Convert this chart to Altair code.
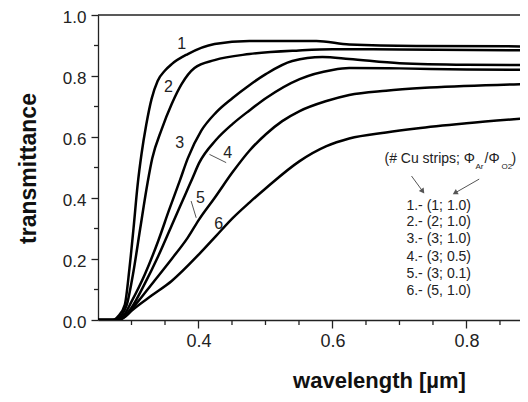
import altair as alt
import pandas as pd

FONT = "Liberation Sans, Arial, sans-serif"

# ---- curve data (wavelength in µm, transmittance) ----
c1_x = [0.25, 0.272, 0.28, 0.29, 0.297, 0.303, 0.309, 0.315, 0.322, 0.330, 0.339, 0.350, 0.360, 0.384, 0.424, 0.476, 0.576, 0.625, 0.725, 0.891]
c1_y = [0.0, 0.0, 0.012, 0.05, 0.17, 0.30, 0.44, 0.545, 0.64, 0.725, 0.784, 0.818, 0.839, 0.872, 0.905, 0.915, 0.915, 0.903, 0.898, 0.897]

c2_x = [0.25, 0.275, 0.284, 0.293, 0.303, 0.313, 0.324, 0.331, 0.345, 0.360, 0.375, 0.394, 0.424, 0.476, 0.55, 0.60, 0.70, 0.891]
c2_y = [0.0, 0.0, 0.012, 0.05, 0.16, 0.30, 0.45, 0.53, 0.625, 0.708, 0.774, 0.826, 0.852, 0.872, 0.884, 0.888, 0.887, 0.884]

c3_x = [0.25, 0.278, 0.29, 0.30, 0.32, 0.34, 0.356, 0.372, 0.384, 0.404, 0.426, 0.451, 0.476, 0.501, 0.54, 0.585, 0.625, 0.70, 0.80, 0.891]
c3_y = [0.0, 0.0, 0.02, 0.06, 0.15, 0.26, 0.36, 0.456, 0.53, 0.62, 0.68, 0.728, 0.77, 0.807, 0.849, 0.862, 0.856, 0.842, 0.837, 0.836]

c4_x = [0.25, 0.28, 0.29, 0.30, 0.32, 0.34, 0.36, 0.38, 0.391, 0.401, 0.426, 0.451, 0.476, 0.501, 0.551, 0.60, 0.625, 0.70, 0.80, 0.891]
c4_y = [0.0, 0.0, 0.012, 0.04, 0.12, 0.21, 0.31, 0.41, 0.465, 0.515, 0.59, 0.643, 0.687, 0.728, 0.790, 0.820, 0.826, 0.825, 0.821, 0.82]

c5_x = [0.25, 0.278, 0.29, 0.30, 0.334, 0.36, 0.384, 0.401, 0.424, 0.451, 0.476, 0.501, 0.525, 0.551, 0.591, 0.625, 0.68, 0.745, 0.891]
c5_y = [0.0, 0.0, 0.012, 0.035, 0.128, 0.20, 0.27, 0.33, 0.40, 0.485, 0.555, 0.61, 0.652, 0.685, 0.718, 0.738, 0.752, 0.762, 0.774]

c6_x = [0.25, 0.28, 0.29, 0.30, 0.33, 0.36, 0.401, 0.426, 0.451, 0.476, 0.501, 0.551, 0.591, 0.625, 0.68, 0.725, 0.80, 0.891]
c6_y = [0.0, 0.0, 0.01, 0.03, 0.08, 0.128, 0.216, 0.275, 0.334, 0.385, 0.433, 0.521, 0.57, 0.595, 0.615, 0.628, 0.645, 0.662]

# ---- curve number labels ----
lab_text = ["1", "2", "3", "4", "5", "6"]
lab_x = [0.375, 0.355, 0.372, 0.4437, 0.403, 0.430]
lab_y = [0.905, 0.764, 0.580, 0.5485, 0.400, 0.315]

# leader lines for labels 4 and 5
lead_x = [0.4164, 0.389]
lead_y = [0.543, 0.390]
lead_x2 = [0.4413, 0.3966]
lead_y2 = [0.516, 0.335]

# ---- legend block ----
hdr_text = ["(# Cu strips; \u03a6", "/\u03a6", ")"]
hdr_x = [0.6776, 0.8269, 0.8672]
hdr_y = [0.528, 0.528, 0.528]
sub_text = ["Ar", "O2"]
sub_x = [0.8134, 0.8522]
sub_y = [0.502, 0.502]

list_text = ["1.- (1; 1.0)", "2.- (2; 1.0)", "3.- (3; 1.0)", "4.- (3; 0.5)", "5.- (3; 0.1)", "6.- (5, 1.0)"]
list_x = [0.7104] * 6
list_y = [0.3738, 0.3213, 0.2646, 0.2066, 0.1508, 0.0951]

arr_x = [0.718, 0.819]
arr_y = [0.472, 0.462]
arr_x2 = [0.734, 0.784]
arr_y2 = [0.424, 0.418]
arr_ang = [144, 241]

# ---- ticks ----
x_major = [0.4, 0.6, 0.8]
x_minor = [0.3, 0.35, 0.45, 0.5, 0.55, 0.65, 0.7, 0.75, 0.85]
y_major = [0.0, 0.2, 0.4, 0.6, 0.8, 1.0]
y_minor = [0.1, 0.3, 0.5, 0.7, 0.9]

rows = []
for name, xs, ys in [("1", c1_x, c1_y), ("2", c2_x, c2_y), ("3", c3_x, c3_y),
                     ("4", c4_x, c4_y), ("5", c5_x, c5_y), ("6", c6_x, c6_y)]:
    for x, y in zip(xs, ys):
        rows.append({"curve": name, "wl": x, "T": y})
df = pd.DataFrame(rows)

W, H = 422, 305
xscale = alt.Scale(domain=[0.25, 0.8799], nice=False, zero=False)
yscale = alt.Scale(domain=[0.0, 1.0], nice=False, zero=False)

xaxis = alt.Axis(values=x_major, format=".1f", title="wavelength [\u00b5m]", grid=False,
                 tickSize=8, tickWidth=1.3, tickColor="#222", domainColor="#222", domainWidth=1.3,
                 labelFontSize=18, labelFont=FONT, labelColor="#222", labelPadding=4,
                 titleFontSize=22, titleFont=FONT, titleFontWeight="bold", titleColor="#111",
                 titleX=281, titleY=60, titleAlign="center", titleBaseline="middle")
yaxis = alt.Axis(values=y_major, format=".1f", title="transmittance", grid=False,
                 tickSize=7, tickWidth=1.3, tickColor="#222", domainColor="#222", domainWidth=1.3,
                 labelFontSize=17, labelFont=FONT, labelColor="#222", labelPadding=5, labelOffset=2,
                 titleFontSize=23, titleFont=FONT, titleFontWeight="bold", titleColor="#111",
                 titleX=-70, titleY=153, titleAngle=-90, titleAlign="center", titleBaseline="middle")


def X(f="wl"):
    return alt.X(f + ":Q", scale=xscale, axis=xaxis)


def Y(f="T"):
    return alt.Y(f + ":Q", scale=yscale, axis=yaxis)


lines = alt.Chart(df).mark_line(color="black", strokeWidth=2.5, interpolate="monotone", clip=True).encode(
    x=X(), y=Y(), detail="curve:N",
)

top_rule = alt.Chart(pd.DataFrame({"T": [1.0]})).mark_rule(color="#222", strokeWidth=1.3).encode(y=Y())

xminor = alt.Chart(pd.DataFrame({"wl": x_minor})).mark_rule(color="#222", strokeWidth=1.3).encode(
    x=X(), y=alt.value(H), y2=alt.value(H + 5))
yminor = alt.Chart(pd.DataFrame({"T": y_minor})).mark_rule(color="#222", strokeWidth=1.3).encode(
    y=Y(), x=alt.value(-4), x2=alt.value(0))

labels = alt.Chart(pd.DataFrame({"wl": lab_x, "T": lab_y, "t": lab_text})).mark_text(
    font=FONT, fontSize=16, color="#222", align="center", baseline="middle").encode(
    x=X(), y=Y(), text="t:N")

leaders = alt.Chart(pd.DataFrame({"wl": lead_x, "T": lead_y, "wl2": lead_x2, "T2": lead_y2})).mark_rule(
    color="#555", strokeWidth=1).encode(x=X(), y=Y(), x2="wl2:Q", y2="T2:Q")

hdr = alt.Chart(pd.DataFrame({"wl": hdr_x, "T": hdr_y, "t": hdr_text})).mark_text(
    font=FONT, fontSize=14, color="#222", align="left", baseline="middle").encode(
    x=X(), y=Y(), text="t:N")
sub = alt.Chart(pd.DataFrame({"wl": sub_x, "T": sub_y, "t": sub_text})).mark_text(
    font=FONT, fontSize=8, color="#222", align="left", baseline="middle").encode(
    x=X(), y=Y(), text="t:N")
lst = alt.Chart(pd.DataFrame({"wl": list_x, "T": list_y, "t": list_text})).mark_text(
    font=FONT, fontSize=14, color="#222", align="left", baseline="middle").encode(
    x=X(), y=Y(), text="t:N")

arrows = alt.Chart(pd.DataFrame({"wl": arr_x, "T": arr_y, "wl2": arr_x2, "T2": arr_y2})).mark_rule(
    color="#555", strokeWidth=1).encode(x=X(), y=Y(), x2="wl2:Q", y2="T2:Q")
heads = alt.Chart(pd.DataFrame({"wl": arr_x2, "T": arr_y2, "a": arr_ang})).mark_point(
    shape="triangle", filled=True, size=35, color="#555", opacity=1).encode(
    x=X(), y=Y(), angle=alt.Angle("a:Q", scale=None))

chart = alt.layer(lines, top_rule, xminor, yminor, labels, leaders, hdr, sub, lst, arrows, heads).properties(
    width=W, height=H,
    autosize=alt.AutoSizeParams(type="none"),
    padding={"left": 90, "top": 7, "right": 0, "bottom": 74},
    background="white",
).configure_view(stroke=None)

chart.save("out.html", embed_options={"renderer": "svg", "actions": False})
